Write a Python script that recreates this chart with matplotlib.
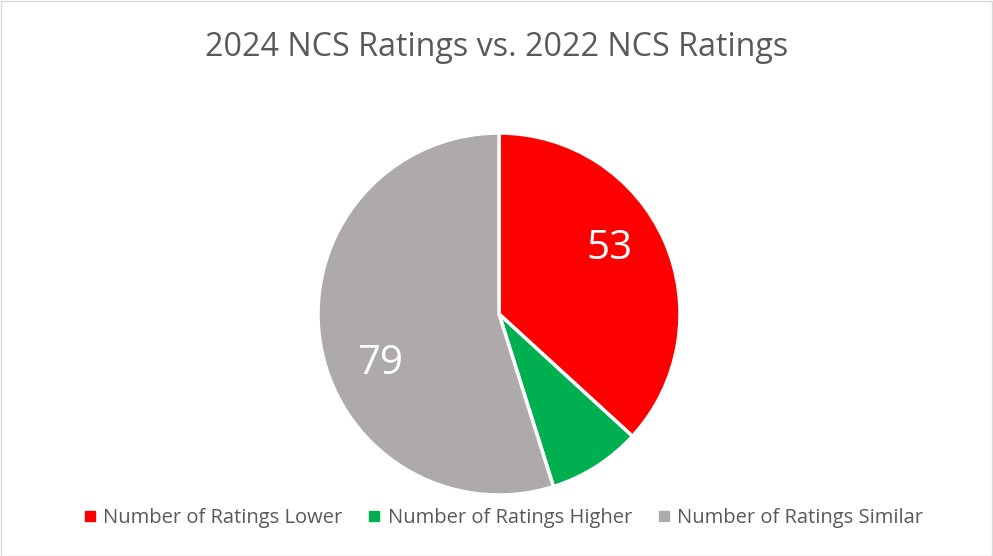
import matplotlib.pyplot as plt
import numpy as np
from matplotlib.lines import Line2D
from matplotlib.patches import Rectangle

categories = ['Number of Ratings Lower', 'Number of Ratings Higher', 'Number of Ratings Similar']
values = [53, 12, 79]
shown = ['53', '', '79']
colors = ['#FF0000', '#00B050', '#AEAAAA']

plt.rcParams['font.family'] = ['Open Sans', 'DejaVu Sans']

W, H = 993, 556
fig = plt.figure(figsize=(W / 100, H / 100), dpi=100)

# chart border
fig.patches.append(Rectangle((0.5 / W, 0.5 / H), 1 - 1.5 / W, 1 - 1.5 / H,
                             transform=fig.transFigure, fill=False,
                             edgecolor='#D9D9D9', linewidth=1))

cx, cy, r = 499, 314, 181
ax = fig.add_axes([(cx - r) / W, (H - cy - r) / H, 2 * r / W, 2 * r / H])
wedges, texts = ax.pie(values, colors=colors, startangle=90, counterclock=False,
                       labels=shown, labeldistance=0.71,
                       wedgeprops=dict(edgecolor='white', linewidth=2.5),
                       textprops=dict(color='white', fontsize=29))
ax.set_xlim(-1, 1)
ax.set_ylim(-1, 1)
ax.set_aspect('auto')
ax.axis('off')

# nudge the labels toward where they sit in the original (best-fit placement)
shift = [7, 0, 14]
for t, w, s in zip(texts, wedges, shift):
    mid = np.deg2rad((w.theta1 + w.theta2) / 2 + s)
    t.set_position((0.71 * np.cos(mid), 0.71 * np.sin(mid)))
    t.set_ha('center')
    t.set_va('center')

fig.text(0.5, 1 - 47 / H, '2024 NCS Ratings vs. 2022 NCS Ratings',
         ha='center', va='center', fontsize=23.2, color='#595959')

handles = [Line2D([], [], marker='s', linestyle='none', markersize=7,
                  markerfacecolor=c, markeredgecolor=c) for c in colors]
fig.legend(handles, categories, loc='center', bbox_to_anchor=(0.506, 1 - 518 / H),
           ncol=3, frameon=False, fontsize=14.5, labelcolor='#595959',
           handletextpad=0.25, columnspacing=1.2, handlelength=0.8)

fig.savefig('out.png', dpi=100, facecolor='white')
